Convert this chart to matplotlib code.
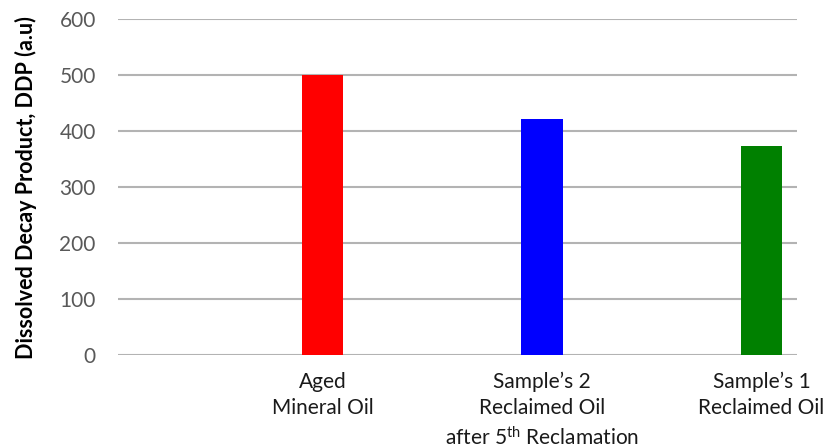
import matplotlib.pyplot as plt

plt.rcParams['font.family'] = ['Lato', 'DejaVu Sans']
plt.rcParams['mathtext.fontset'] = 'custom'
plt.rcParams['mathtext.rm'] = 'Lato'
plt.rcParams['mathtext.it'] = 'Lato'

labels = ['Aged\nMineral Oil',
          'Sample\u2019s 2\nReclaimed Oil\nafter 5$^{\\mathrm{th}}$ Reclamation',
          'Sample\u2019s 1\nReclaimed Oil']
ddp = [500, 422, 373]
colors = ['#ff0000', '#0000ff', '#008000']
yticks = [0, 100, 200, 300, 400, 500, 600]

fig = plt.figure(figsize=(8.26, 4.48), dpi=100)
ax = fig.add_axes([0.1429, 0.2076, 0.8220, 0.7489])

pos = [1, 2, 3]
ax.bar(pos, ddp, width=0.187, color=colors, zorder=3)

ax.set_ylim(0, 600)
ax.set_yticks(yticks)
ax.set_xlim(0.068, 3.162)
ax.set_xticks(pos)
ax.set_xticklabels(labels, fontsize=15, color='#1a1a1a', linespacing=1.4)
ax.tick_params(axis='y', labelsize=15, labelcolor='#595959', length=0, pad=16)
ax.tick_params(axis='x', length=0, pad=12)

ax.grid(axis='y', color='#b3b3b3', linewidth=1.5, zorder=0)
for s in ax.spines.values():
    s.set_visible(False)

ax.set_ylabel('Dissolved Decay Product, DDP (a.u)', fontsize=15.5,
              fontweight='bold', color='black', labelpad=16)

fig.savefig('out.png', dpi=100)
